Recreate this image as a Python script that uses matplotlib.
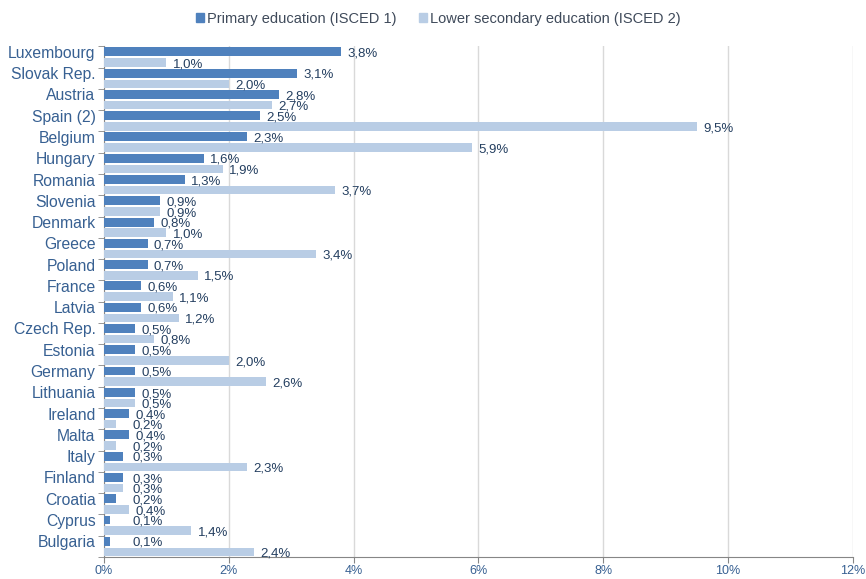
import matplotlib
matplotlib.use("Agg")
import matplotlib.pyplot as plt
from matplotlib.patches import Patch
import numpy as np

countries = ["Luxembourg", "Slovak Rep.", "Austria", "Spain (2)", "Belgium", "Hungary",
             "Romania", "Slovenia", "Denmark", "Greece", "Poland", "France", "Latvia",
             "Czech Rep.", "Estonia", "Germany", "Lithuania", "Ireland", "Malta", "Italy",
             "Finland", "Croatia", "Cyprus", "Bulgaria"]
primary = [3.8, 3.1, 2.8, 2.5, 2.3, 1.6, 1.3, 0.9, 0.8, 0.7, 0.7, 0.6, 0.6,
           0.5, 0.5, 0.5, 0.5, 0.4, 0.4, 0.3, 0.3, 0.2, 0.1, 0.1]
lower_sec = [1.0, 2.0, 2.7, 9.5, 5.9, 1.9, 3.7, 0.9, 1.0, 3.4, 1.5, 1.1, 1.2,
             0.8, 2.0, 2.6, 0.5, 0.2, 0.2, 2.3, 0.3, 0.4, 1.4, 2.4]
xticks = [0, 2, 4, 6, 8, 10, 12]

c_prim = "#4F81BD"
c_low = "#B9CDE5"
c_lab = "#243F60"
c_axis = "#376092"

fig = plt.figure(figsize=(8.66, 5.79), dpi=100)
ax = fig.add_axes([0.120, 0.038, 0.865, 0.882])

y = np.arange(len(countries))
yp = y - 0.24
yl = y + 0.26
ax.barh(yp, primary, height=0.42, color=c_prim, zorder=3)
ax.barh(yl, lower_sec, height=0.40, color=c_low, zorder=3)

# etiquetas de valor com vírgula decimal
lab_font = dict(family="Liberation Sans", fontsize=9.5, color=c_lab)
for yy, v in zip(yp, primary):
    ax.text(max(v, 0.35) + 0.1, yy + 0.08, f"{v:.1f}%".replace(".", ","), va="center", **lab_font)
for yy, v in zip(yl, lower_sec):
    ax.text(max(v, 0.35) + 0.1, yy + 0.08, f"{v:.1f}%".replace(".", ","), va="center", **lab_font)

ax.set_xlim(0, 12)
ax.set_ylim(len(countries) - 0.5, -0.5)
ax.set_xticks(xticks)
ax.set_xticklabels([f"{t}%" for t in xticks], family="Liberation Sans", fontsize=9, color=c_axis)
ax.set_yticks(yp)
ax.set_yticklabels(countries, family="Liberation Sans", fontsize=11.3, color=c_axis)
ax.tick_params(axis="y", length=0, pad=6)
ax.set_yticks(np.arange(len(countries) + 1) - 0.5, minor=True)
ax.tick_params(axis="y", which="minor", length=4, color="#868686")
ax.tick_params(axis="x", length=4, color="#868686", pad=2)

ax.grid(axis="x", color="#D9D9D9", linewidth=1, zorder=0)
for s in ["top", "right"]:
    ax.spines[s].set_visible(False)
for s in ["left", "bottom"]:
    ax.spines[s].set_color("#868686")

handles = [Patch(color=c_prim, label="Primary education (ISCED 1)"),
           Patch(color=c_low, label="Lower secondary education (ISCED 2)")]
fig.legend(handles=handles, loc="center", bbox_to_anchor=(0.506, 0.968), ncol=2, frameon=False,
           handlelength=0.6, handleheight=0.6, handletextpad=0.2, columnspacing=1.5,
           prop={"family": "Liberation Sans", "size": 10.5},
           labelcolor="#3F4A5A")

fig.savefig("out.png", dpi=100)
